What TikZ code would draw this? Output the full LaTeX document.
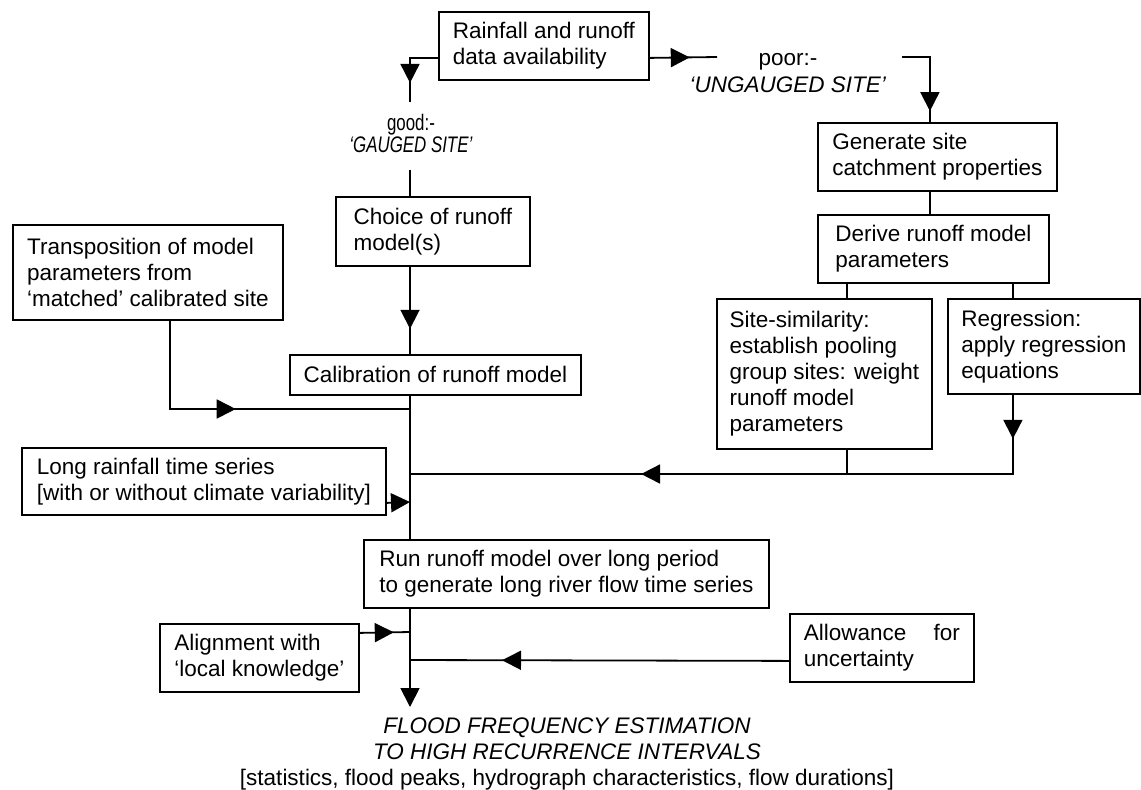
\documentclass[tikz,border=0pt]{standalone}
\usepackage{fontspec}
\usepackage{graphicx}
\setmainfont{Liberation Sans}
\usetikzlibrary{arrows.meta,decorations.markings}
\tikzset{
  box/.style={draw,line width=0.9pt,anchor=north west,inner xsep=6pt,inner ysep=0pt,
    align=left,font=\fontsize{11.25}{13}\selectfont},
  lbl/.style={inner sep=0pt,align=center,font=\fontsize{11.25}{13}\selectfont},
  link/.style={line width=0.9pt},
  flow/.style={link,-{Triangle[length=9.5pt,width=9.5pt]}},
  tip at/.style={postaction={decorate,decoration={markings,
    mark=at position #1 with {\arrow{Triangle[length=9.5pt,width=9.5pt]}}}}},
}
\newcommand{\narrow}[1]{\scalebox{0.75}[1]{#1}}

\begin{document}
\begin{tikzpicture}[x=0.5pt,y=-0.5pt]
    \useasboundingbox (0,0) rectangle (1141,789);
    % ------------- boxes -------------
    \node[box,minimum width=105pt,minimum height=34pt] (rain) at (438,11)
      {Rainfall and runoff\\ data availability};
    \node[box,minimum width=97pt,minimum height=34.5pt] (choice) at (335,196)
      {Choice of runoff\\ model(s)};
    \node[box,minimum width=135pt,minimum height=47.5pt] (trans) at (12,224)
      {Transposition of model\\ parameters from\\ `matched' calibrated site};
    \node[box,minimum width=145.5pt,minimum height=20pt] (calib) at (289,354)
      {Calibration of runoff model};
    \node[box,minimum width=182pt,minimum height=33.5pt] (longrain) at (21,447)
      {Long rainfall time series\\ {[}with or without climate variability{]}};
    \node[box,minimum width=119.5pt,minimum height=34pt] (gen) at (817,122)
      {Generate site\\ catchment properties};
    \node[box,minimum width=115.5pt,minimum height=34pt] (derive) at (817,214)
      {Derive runoff model\\ parameters};
    \node[box,minimum width=107.5pt,minimum height=75pt] (sitesim) at (716,298)
      {Site-similarity:\\ establish pooling\\ group sites: weight\\ runoff model\\ parameters};
    \node[box,minimum width=96pt,minimum height=47.5pt] (regr) at (947,298)
      {Regression:\\ apply regression\\ equations};
    \node[box,minimum width=202.5pt,minimum height=34pt] (run) at (363,539)
      {Run runoff model over long period\\ to generate long river flow time series};
    \node[box,minimum width=99.5pt,minimum height=34pt] (align) at (159,623)
      {Alignment with\\ `local knowledge'};
    \node[box,inner xsep=7pt,text width=78pt,minimum height=34pt] (allow) at (789,613)
      {Allowance\hfill for\\ uncertainty};
    % ------------- free labels -------------
    \node[lbl,anchor=north] (good) at (411,114)
      {\narrow{good:-}\\[-2pt]\narrow{\textit{`GAUGED SITE'}}};
    \node[lbl,anchor=north] (poor) at (788,53) {poor:-\\[0.5pt]\textit{`UNGAUGED SITE'}};
    \node[lbl,anchor=north] (flood) at (567,717)
      {\textit{FLOOD FREQUENCY ESTIMATION}\\ \textit{TO HIGH RECURRENCE INTERVALS}\\
       {[}statistics, flood peaks, hydrograph characteristics, flow durations{]}};
    % ------------- spine points -------------
    \coordinate (sp) at (410,0);
    \coordinate (goodtop) at (410,102);
    \coordinate (goodbot) at (410,170);
    \coordinate (poorL) at (717,57);
    \coordinate (poorR) at (902,57);
    \coordinate (jt) at (410,409);
    \coordinate (jr) at (410,474);
    \coordinate (jl) at (410,502);
    \coordinate (ja) at (410,632);
    \coordinate (ju) at (410,660);
    \coordinate (fl) at (410,707);
    % ------------- gauged branch -------------
    \draw[link,tip at=26.5pt] ([yshift=-6pt]rain.west) -| (goodtop);
    \draw[link] (goodbot) -- (sp |- choice.north);
    \draw[link,tip at=31pt] (sp |- choice.south) -- (sp |- calib.north);
    \draw[link,tip at=77pt] ([xshift=11pt]trans.south) |- (jt);
    \draw[link] (sp |- calib.south) -- (sp |- run.north);
    \draw[flow] ([yshift=-10.75pt]longrain.east) -- (jl);
    % ------------- ungauged branch -------------
    \draw[link,tip at=20pt] ([yshift=-6pt]rain.east) -- (poorL);
    \draw[link,tip at=41pt] (poorR) -| ([xshift=-3.75pt]gen.north);
    \draw[link] ([xshift=-3.75pt]gen.south) -- ([xshift=-3.75pt]gen.south |- derive.north);
    \draw[link] ([xshift=11.25pt]sitesim.north) -- ([xshift=11.25pt]sitesim.north |- derive.south);
    \draw[link] ([xshift=-15.5pt]regr.north) -- ([xshift=-15.5pt]regr.north |- derive.south);
    \draw[link] ([xshift=11.25pt]sitesim.south) -- ([xshift=11.25pt]sitesim.south |- jr);
    \draw[link,tip at=22pt,tip at=225.5pt] ([xshift=-15.5pt]regr.south) |- (jr);
    % ------------- final run -------------
    \draw[flow] (sp |- run.south) -- (fl);
    \draw[link,tip at=17pt] ([yshift=12.5pt]align.east) -- (ja);
    \draw[link,tip at=143.5pt] ([yshift=-6.5pt]allow.west) -- (ju);
\end{tikzpicture}
\end{document}
